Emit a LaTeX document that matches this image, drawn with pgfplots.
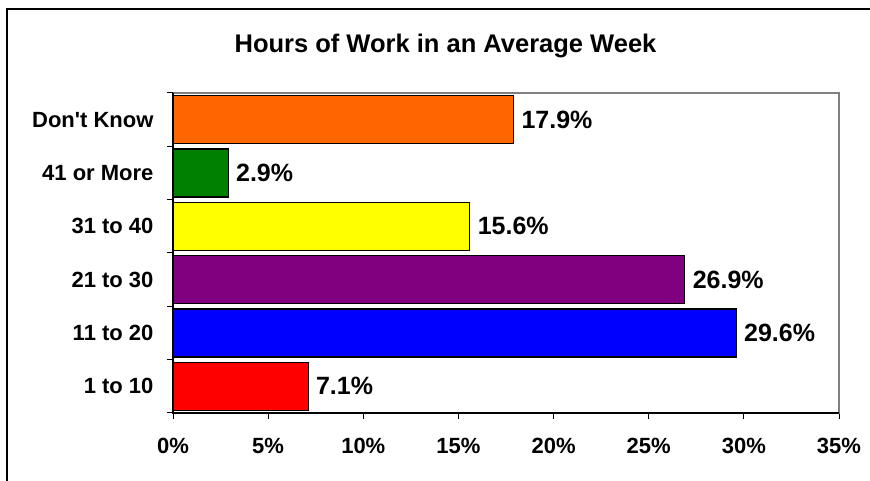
\documentclass[border=0pt]{standalone}
\usepackage{fontspec}
\setmainfont{Liberation Sans}
\usepackage{pgfplots}
\pgfplotsset{compat=1.18}
\definecolor{BarOrange}{HTML}{FF6600}
\definecolor{BarGreen}{HTML}{008000}
\definecolor{BarYellow}{HTML}{FFFF00}
\definecolor{BarPurple}{HTML}{800080}
\definecolor{BarBlue}{HTML}{0000FF}
\definecolor{BarRed}{HTML}{FF0000}

\begin{document}
\begin{tikzpicture}[x=1pt,y=1pt]
  \useasboundingbox (0,0) rectangle (870,481);
  \fill[white] (0,0) rectangle (870,481);
  \draw[line width=1.2pt] (7,0) -- (7,472) -- (870,472);
  \node[font=\fontsize{25.5}{30}\selectfont\bfseries, anchor=base] at (445.5,428) {Hours of Work in an Average Week};
  \begin{axis}[
    at={(173pt,68pt)}, anchor=south west,
    scale only axis, width=666pt, height=320pt,
    xmin=0, xmax=35, ymin=-0.5, ymax=5.5,
    xbar, bar shift=0pt, bar width=0.9,
    axis line style={gray, line width=1.2pt},
    tick align=outside, tick pos=left,
    major tick length=6pt,
    tick style={black, line width=1pt},
    xtick={0,5,...,35},
    xticklabel={\pgfmathprintnumber{\tick}\%},
    xticklabel style={font=\fontsize{22}{26}\selectfont\bfseries, yshift=-16pt},
    /pgf/number format/assume math mode=true,
    ytick={0,1,2,3,4,5},
    yticklabels={1 to 10,11 to 20,21 to 30,31 to 40,41 or More,{Don\textquotesingle t Know}},
    yticklabel style={font=\fontsize{22}{26}\selectfont\bfseries, xshift=-10pt},
    y tick style={draw=none},
    nodes near coords={\pgfmathprintnumber[fixed,precision=1,fixed zerofill]{\pgfplotspointmeta}\%},
    every node near coord/.append style={font=\fontsize{25}{30}\selectfont\bfseries, black, xshift=4pt, /pgf/number format/assume math mode=true},
    every axis plot/.append style={draw=black, line width=1.2pt},
    after end axis/.code={
      \draw[black, line width=1.2pt] (rel axis cs:0,1) -- (rel axis cs:0,0) -- (rel axis cs:1,0);
      \foreach \b in {-0.5,0.5,...,5.5} {
        \draw[black, line width=1pt] (axis cs:0,\b) -- ++(-6pt,0pt);
      }
    },
  ]
    \addplot[fill=BarRed] coordinates {(7.1,0)};
    \addplot[fill=BarBlue] coordinates {(29.6,1)};
    \addplot[fill=BarPurple] coordinates {(26.9,2)};
    \addplot[fill=BarYellow] coordinates {(15.6,3)};
    \addplot[fill=BarGreen] coordinates {(2.9,4)};
    \addplot[fill=BarOrange] coordinates {(17.9,5)};
  \end{axis}
\end{tikzpicture}
\end{document}
